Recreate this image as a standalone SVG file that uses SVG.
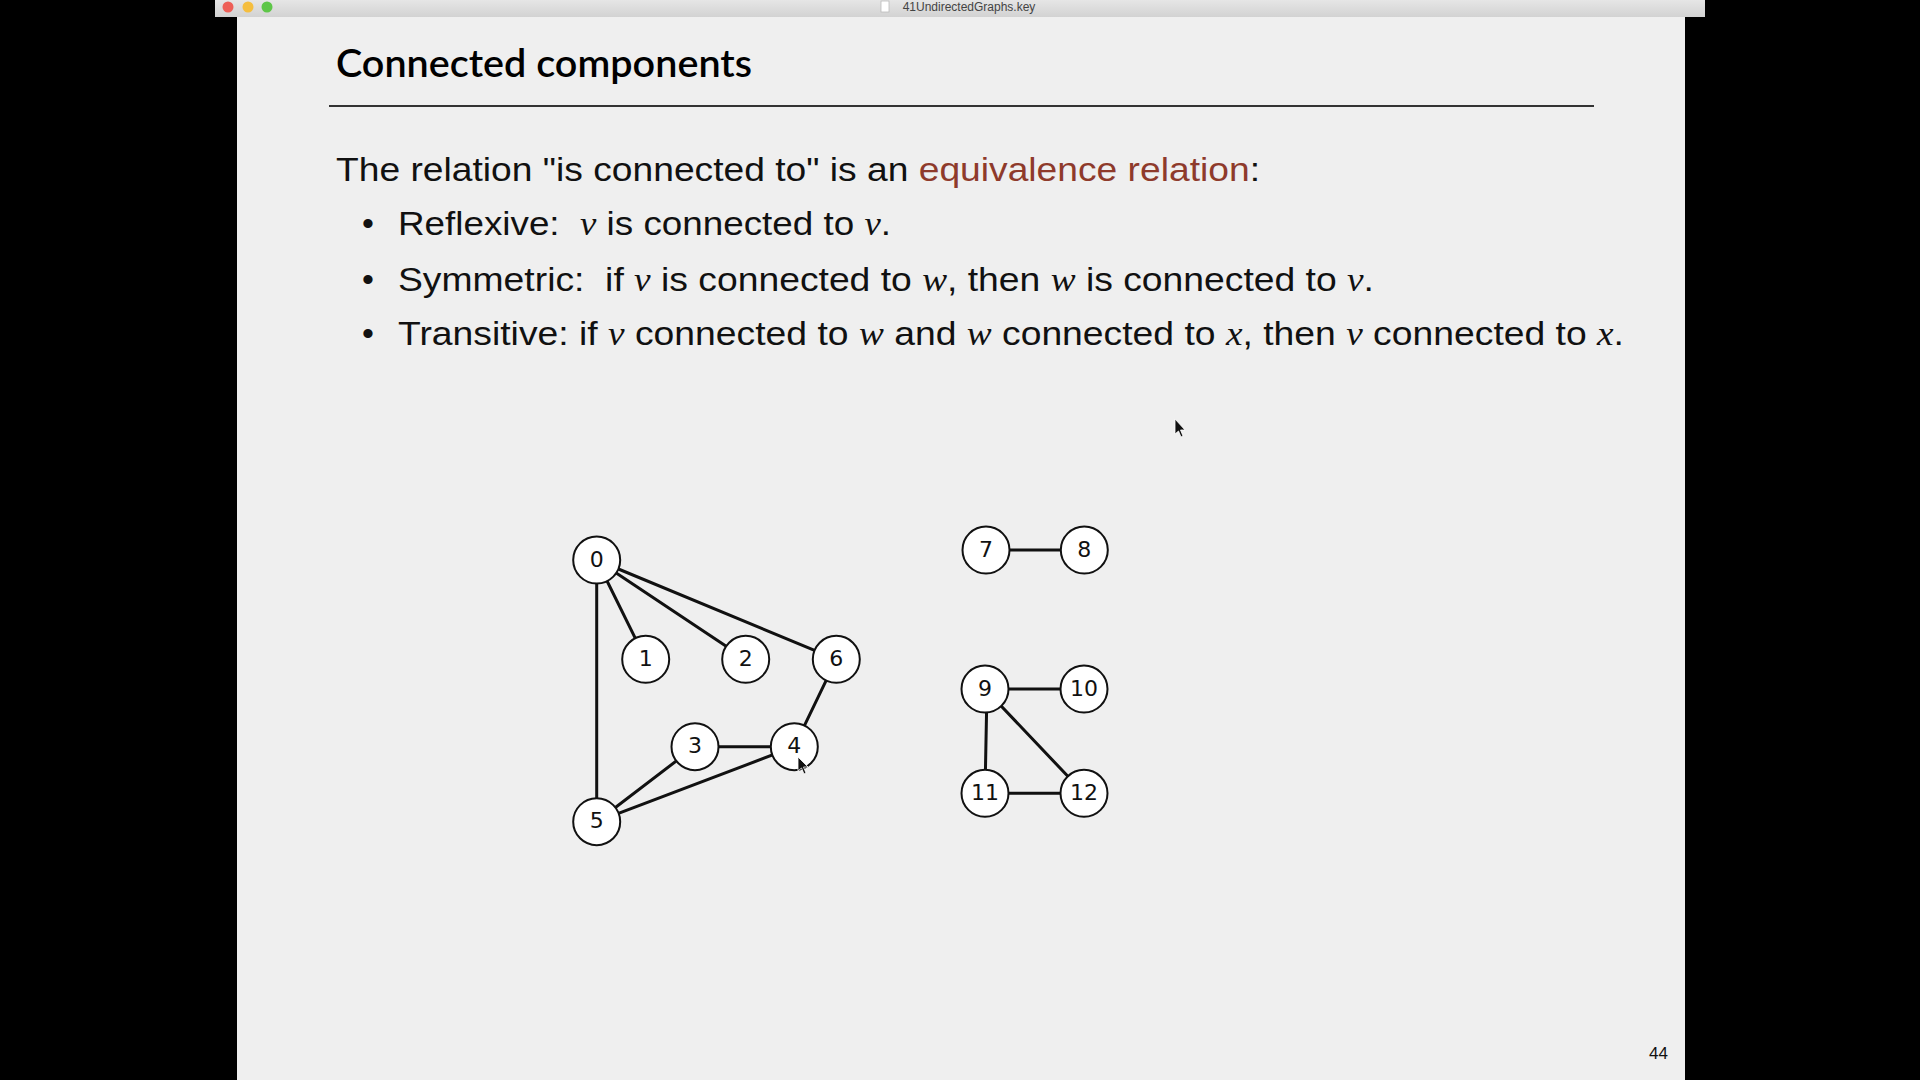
<svg xmlns="http://www.w3.org/2000/svg" width="1920" height="1080" viewBox="0 0 1920 1080">
<defs>
<style>
.body{font-family:"Liberation Sans","Open Sans",sans-serif;font-size:34px;fill:#111;white-space:pre}
.it{font-family:"Liberation Serif",serif;font-style:italic}
.hl{fill:#8e3a2b}
.node circle{fill:#fff;stroke:#111;stroke-width:2}
.node text{font-family:"DejaVu Sans","Liberation Sans",sans-serif;font-size:22px;fill:#111;text-anchor:middle}
.edges line{stroke:#111;stroke-width:3;stroke-linecap:round}
</style>
<linearGradient id="tb" x1="0" y1="0" x2="0" y2="1">
<stop offset="0" stop-color="#e6e6e6"/>
<stop offset="1" stop-color="#d2d2d2"/>
</linearGradient>
</defs>
<rect x="0" y="0" width="1920" height="1080" fill="#000"/>
<rect x="215" y="0" width="1490" height="17" fill="url(#tb)"/>
<circle cx="228" cy="7" r="5.5" fill="#ee5f57"/>
<circle cx="248" cy="7" r="5.5" fill="#f5be3f"/>
<circle cx="267" cy="7" r="5.5" fill="#5ec648"/>
<rect x="881" y="1" width="8" height="11" fill="#fff" stroke="#bbb" stroke-width="0.8"/>
<text x="969" y="11" font-family="Liberation Sans,sans-serif" font-size="12" fill="#444" text-anchor="middle">41UndirectedGraphs.key</text>
<rect x="237" y="17" width="1448" height="1063" fill="#efefef"/>

<text x="336" y="76.5" font-family="Lato,'Liberation Sans',sans-serif" font-size="39" font-weight="600" fill="#000" textLength="416" lengthAdjust="spacingAndGlyphs">Connected components</text>
<line x1="329" y1="106" x2="1594" y2="106" stroke="#333" stroke-width="2"/>

<text class="body" x="336" y="180.7" textLength="924" lengthAdjust="spacingAndGlyphs">The relation "is connected to" is an <tspan class="hl">equivalence relation</tspan>:</text>
<text class="body" x="362" y="235.3">•</text>
<text class="body" x="398" y="235.3" textLength="493" lengthAdjust="spacingAndGlyphs">Reflexive:  <tspan class="it">v</tspan> is connected to <tspan class="it">v</tspan>.</text>
<text class="body" x="362" y="290.7">•</text>
<text class="body" x="398" y="290.7" textLength="976" lengthAdjust="spacingAndGlyphs">Symmetric:  if <tspan class="it">v</tspan> is connected to <tspan class="it">w</tspan>, then <tspan class="it">w</tspan> is connected to <tspan class="it">v</tspan>.</text>
<text class="body" x="362" y="345">•</text>
<text class="body" x="398" y="345" textLength="1226" lengthAdjust="spacingAndGlyphs">Transitive: if <tspan class="it">v</tspan> connected to <tspan class="it">w</tspan> and <tspan class="it">w</tspan> connected to <tspan class="it">x</tspan>, then <tspan class="it">v</tspan> connected to <tspan class="it">x</tspan>.</text>

<g class="edges" id="edges">
<line x1="596.7" y1="560" x2="645.7" y2="659.3"/>
<line x1="596.7" y1="560" x2="745.7" y2="659.3"/>
<line x1="596.7" y1="560" x2="836.3" y2="659.3"/>
<line x1="596.7" y1="560" x2="596.7" y2="821.7"/>
<line x1="836.3" y1="659.3" x2="794.3" y2="746.7"/>
<line x1="695" y1="746.7" x2="794.3" y2="746.7"/>
<line x1="695" y1="746.7" x2="596.7" y2="821.7"/>
<line x1="794.3" y1="746.7" x2="596.7" y2="821.7"/>
<line x1="986" y1="550" x2="1084.3" y2="550"/>
<line x1="985" y1="689" x2="1084" y2="689"/>
<line x1="987" y1="689" x2="985" y2="793.3"/>
<line x1="985" y1="689" x2="1084" y2="793.3"/>
<line x1="985" y1="793.3" x2="1084" y2="793.3"/>
</g>

<g class="node" id="n0"><circle cx="596.7" cy="560" r="23.5"/><text x="596.7" y="566.5">0</text></g>
<g class="node" id="n1"><circle cx="645.7" cy="659.3" r="23.5"/><text x="645.7" y="665.8">1</text></g>
<g class="node" id="n2"><circle cx="745.7" cy="659.3" r="23.5"/><text x="745.7" y="665.8">2</text></g>
<g class="node" id="n6"><circle cx="836.3" cy="659.3" r="23.5"/><text x="836.3" y="665.8">6</text></g>
<g class="node" id="n3"><circle cx="695" cy="746.7" r="23.5"/><text x="695" y="753.2">3</text></g>
<g class="node" id="n4"><circle cx="794.3" cy="746.7" r="23.5"/><text x="794.3" y="753.2">4</text></g>
<g class="node" id="n5"><circle cx="596.7" cy="821.7" r="23.5"/><text x="596.7" y="828.2">5</text></g>
<g class="node" id="n7"><circle cx="986" cy="550" r="23.5"/><text x="986" y="556.5">7</text></g>
<g class="node" id="n8"><circle cx="1084.3" cy="550" r="23.5"/><text x="1084.3" y="556.5">8</text></g>
<g class="node" id="n9"><circle cx="985" cy="689" r="23.5"/><text x="985" y="695.5">9</text></g>
<g class="node" id="n10"><circle cx="1084" cy="689" r="23.5"/><text x="1084" y="695.5">10</text></g>
<g class="node" id="n11"><circle cx="985" cy="793.3" r="23.5"/><text x="985" y="799.8">11</text></g>
<g class="node" id="n12"><circle cx="1084" cy="793.3" r="23.5"/><text x="1084" y="799.8">12</text></g>

<path d="M1175,419 L1175,434 L1178.5,431 L1181,437 L1183,436 L1180.5,430 L1185,430 Z" fill="#111" stroke="#fff" stroke-width="0.8"/>
<path d="M798,757 L798,771 L801.5,768 L804,774 L806,773 L803.5,767 L808,767 Z" fill="#111" stroke="#fff" stroke-width="0.8"/>

<text x="1668" y="1059" font-family="'Liberation Sans',sans-serif" font-size="17" fill="#111" text-anchor="end">44</text>
</svg>
